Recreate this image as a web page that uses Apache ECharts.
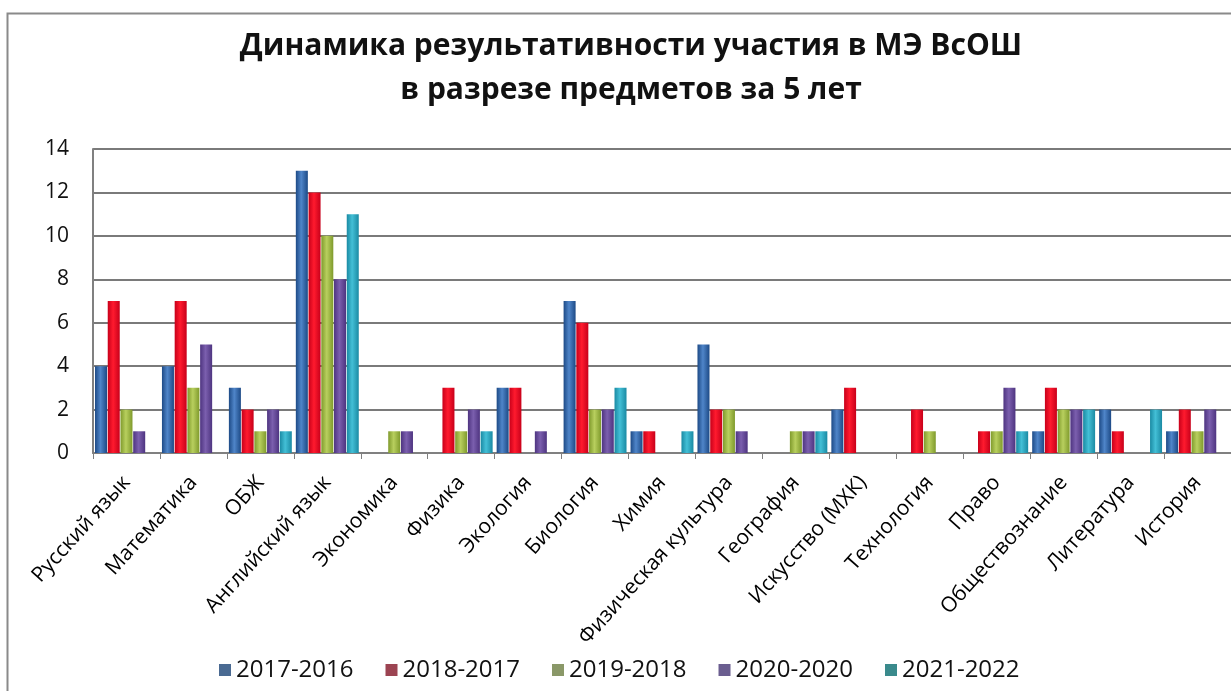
<!DOCTYPE html>
<html><head><meta charset="utf-8">
<script src="https://cdn.jsdelivr.net/npm/echarts@6/dist/echarts.min.js"></script>
<style>html,body{margin:0;padding:0;background:#fff}#c{width:1231px;height:691px}</style>
</head><body><div id="c"></div>
<script>
const categories = ['Русский язык','Математика','ОБЖ','Английский язык','Экономика','Физика','Экология','Биология','Химия','Физическая культура','География','Искусство (МХК)','Технология','Право','Обществознание','Литература','История'];
const seriesNames = ['2017-2016','2018-2017','2019-2018','2020-2020','2021-2022'];
const s2017 = [4,4,3,13,0,0,3,7,1,5,0,2,0,0,1,2,1];
const s2018 = [7,7,2,12,0,3,3,6,1,2,0,3,2,1,3,1,2];
const s2019 = [2,3,1,10,1,1,0,2,0,2,1,0,1,1,2,0,1];
const s2020 = [1,5,2,8,1,2,1,2,0,1,1,0,0,3,2,0,2];
const s2021 = [0,0,1,11,0,1,0,3,1,0,1,0,0,1,2,2,0];
const yTicks = [0,2,4,6,8,10,12,14];

const values = [s2017,s2018,s2019,s2020,s2021];
const barColors = [
  ['#1d4a86','#4f85c9','#1d4a86'],
  ['#c8001a','#ff1a2e','#c8001a'],
  ['#7f9a2c','#b8cf5e','#7f9a2c'],
  ['#4e3480','#7b5fae','#4e3480'],
  ['#1a8aa3','#43bfd6','#1a8aa3']
];
const legendColors = ['#4a6a92','#9c4452','#8a9868','#6b5e90','#3a8a8c'];
function grad(c){return {type:'linear',x:0,y:0,x2:1,y2:0,colorStops:[{offset:0,color:c[0]},{offset:0.45,color:c[1]},{offset:1,color:c[2]}]};}

const chart = echarts.init(document.getElementById('c'));
const FONT = 'Open Sans';
chart.setOption({
  animation:false,
  textStyle:{fontFamily:FONT},
  title:{text:'Динамика результативности участия в МЭ ВсОШ\nв разрезе предметов за 5 лет',left:626,textAlign:'center',top:19,
    textStyle:{fontFamily:FONT,fontWeight:'bold',fontSize:30,lineHeight:44,color:'#111'}},
  graphic:[{type:'polyline',shape:{points:[[7.5,700],[7.5,13.5],[1240,13.5]]},style:{stroke:'#8a8a8a',lineWidth:2,fill:null}}],
  legend:{bottom:4,left:214,itemGap:32,itemWidth:12,itemHeight:12,icon:'rect',
    textStyle:{fontFamily:FONT,fontSize:24,color:'#111'},
    data:seriesNames.map((n,i)=>({name:n,itemStyle:{color:legendColors[i]}}))},
  grid:{left:93,top:149,width:1144,height:304},
  xAxis:{type:'category',data:categories,
    axisLine:{lineStyle:{color:'#808080',width:2}},
    axisTick:{show:true,length:6,lineStyle:{color:'#808080'}},
    axisLabel:{rotate:48,interval:0,fontSize:21,color:'#000',margin:26,fontFamily:FONT}},
  yAxis:{type:'value',min:0,max:14,interval:2,
    axisLine:{show:true,lineStyle:{color:'#808080',width:2}},
    axisTick:{show:false},
    axisLabel:{fontSize:21,color:'#111',margin:24,fontFamily:FONT,formatter:v=>yTicks.includes(v)?String(v):''},
    splitLine:{lineStyle:{color:'#7a7a7a',width:2}}},
  series:values.map((d,i)=>({name:seriesNames[i],type:'bar',data:d,barGap:'6%',barCategoryGap:'6%',
    itemStyle:{color:grad(barColors[i])}}))
});
</script></body></html>
